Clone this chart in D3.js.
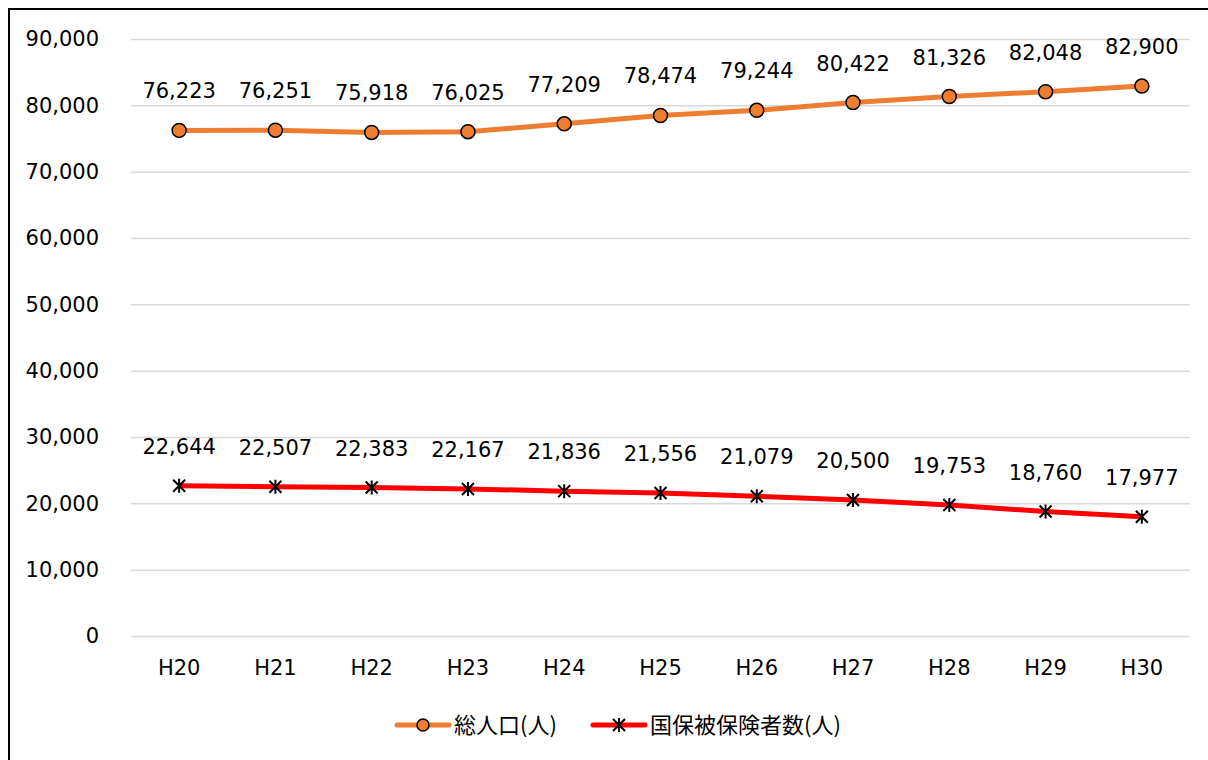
<!DOCTYPE html>
<html>
<head>
<meta charset="utf-8">
<script src="https://cdn.jsdelivr.net/npm/d3@7"></script>
<style>
  body { margin: 0; background: #fff; }
  svg text { font-family: "DejaVu Sans", Verdana, sans-serif; fill: #000; }
</style>
</head>
<body>
<script>
var WIDTH = 1208, HEIGHT = 760

var years = ['H20','H21','H22','H23','H24','H25','H26','H27','H28','H29','H30']
var population = [76223, 76251, 75918, 76025, 77209, 78474, 79244, 80422, 81326, 82048, 82900]
var insured = [22644, 22507, 22383, 22167, 21836, 21556, 21079, 20500, 19753, 18760, 17977]
var yTicks = [0, 10000, 20000, 30000, 40000, 50000, 60000, 70000, 80000, 90000]
var seriesNames = ['総人口(人)', '国保被保険者数(人)']

var plot = {left: 131, right: 1190, top: 39, bottom: 636}

var svg = d3.select('body').append('svg')
	.attr('width', WIDTH)
	.attr('height', HEIGHT)

// outer frame (runs past the picture edge on right and bottom)
svg.append('rect')
	.attr('x', 9).attr('y', 9)
	.attr('width', 1400).attr('height', 1000)
	.attr('fill', 'none')
	.attr('stroke', '#000')
	.attr('stroke-width', 2)

var x = d3.scaleBand().domain(years).range([plot.left, plot.right])
var y = d3.scaleLinear().domain([0, 90000]).range([plot.bottom, plot.top])
var fmt = d3.format(',')

// gridlines + y labels
var yAxis = d3.axisLeft(y).tickValues(yTicks).tickFormat(fmt)
	.tickSize(-(plot.right - plot.left)).tickPadding(32)
var gy = svg.append('g').attr('transform', 'translate(' + plot.left + ',0)').call(yAxis)
gy.select('.domain').remove()
gy.selectAll('line').attr('stroke', '#d9d9d9').attr('stroke-width', 1.5)
gy.selectAll('text').style('font-size', '21px').attr('fill', '#000')

// x labels
var xAxis = d3.axisBottom(x).tickSize(0).tickPadding(24)
var gx = svg.append('g').attr('transform', 'translate(0,' + plot.bottom + ')').call(xAxis)
gx.select('.domain').remove()
gx.selectAll('text').style('font-size', '21px').attr('fill', '#000')

function cx(d, i){ return x(years[i]) + x.bandwidth() / 2 }

var line = d3.line()
	.x(function(d, i){ return cx(d, i) })
	.y(function(d){ return y(d) })

// population line
svg.append('path').datum(population)
	.attr('d', line)
	.attr('fill', 'none')
	.attr('stroke', '#ED7D31')
	.attr('stroke-width', 5)
	.attr('stroke-linejoin', 'round')

// insured line
svg.append('path').datum(insured)
	.attr('d', line)
	.attr('fill', 'none')
	.attr('stroke', '#FF0000')
	.attr('stroke-width', 5)
	.attr('stroke-linejoin', 'round')

svg.append('g').selectAll('circle').data(population)
	.enter().append('circle')
	.attr('cx', cx)
	.attr('cy', function(d){ return y(d) })
	.attr('r', 7)
	.attr('fill', '#ED7D31')
	.attr('stroke', '#000')
	.attr('stroke-width', 1.5)

function star(g, px, py){
	var s = 6
	g.append('path')
		.attr('d', 'M' + (px - s) + ',' + (py - s) + 'L' + (px + s) + ',' + (py + s) +
			'M' + (px - s) + ',' + (py + s) + 'L' + (px + s) + ',' + (py - s) +
			'M' + px + ',' + (py - s - 1) + 'L' + px + ',' + (py + s + 1))
		.attr('stroke', '#000')
		.attr('stroke-width', 2)
		.attr('fill', 'none')
}
var stars = svg.append('g')
insured.forEach(function(d, i){ star(stars, cx(d, i), y(d)) })

// data labels
function labels(data){
	svg.append('g').selectAll('text').data(data)
		.enter().append('text')
		.attr('x', cx)
		.attr('y', function(d){ return y(d) - 32 })
		.attr('text-anchor', 'middle')
		.style('font-size', '21px')
		.text(fmt)
}
labels(population)
labels(insured)

// legend
var ly = 725
var leg = svg.append('g')
leg.append('line').attr('x1', 397).attr('x2', 449).attr('y1', ly).attr('y2', ly)
	.attr('stroke', '#ED7D31').attr('stroke-width', 5).attr('stroke-linecap', 'round')
leg.append('circle').attr('cx', 423).attr('cy', ly).attr('r', 6)
	.attr('fill', '#ED7D31').attr('stroke', '#000').attr('stroke-width', 1.5)
leg.append('text').attr('x', 454).attr('y', ly + 8).style('font-size', '22px')
	.style('font-family', '"Noto Sans CJK JP", sans-serif').text(seriesNames[0])

leg.append('line').attr('x1', 593).attr('x2', 645).attr('y1', ly).attr('y2', ly)
	.attr('stroke', '#FF0000').attr('stroke-width', 5).attr('stroke-linecap', 'round')
star(leg, 619, ly)
leg.append('text').attr('x', 650).attr('y', ly + 8).style('font-size', '22px')
	.style('font-family', '"Noto Sans CJK JP", sans-serif').text(seriesNames[1])
</script>
</body>
</html>
